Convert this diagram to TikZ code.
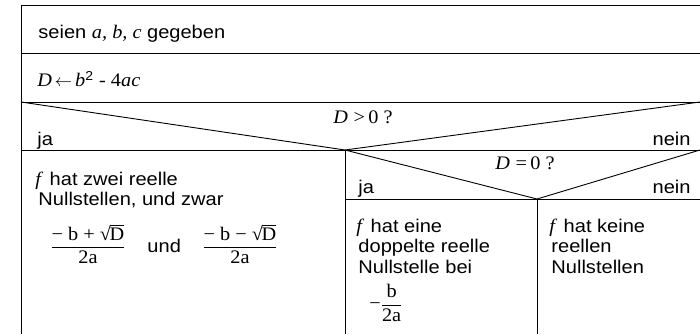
\documentclass[tikz,border=0pt]{standalone}
\usepackage{amsmath}
\usepackage{fontspec}
\setmainfont{Liberation Sans}[FakeStretch=1.09]
\newfontfamily\serif{Liberation Serif}[FakeStretch=1.06,Scale=1.04]
\newcommand{\rootD}{\text{\serif √}\mkern-1.5mu\overline{\text{\serif D}}}
\begin{document}
\begin{tikzpicture}[x=1pt,y=-1pt,line width=0.9pt,
  lbl/.style={inner sep=0pt,anchor=base west,font=\fontsize{18.4}{20}\selectfont},
  txtline/.style={lbl,text height=13pt,text depth=3pt},
  rlbl/.style={txtline,anchor=base east},
  clbl/.style={txtline,anchor=base}]
\useasboundingbox (0,0) rectangle (700,334);
% frame coordinates
\coordinate (tl) at (21,5);   \coordinate (tr) at (700,5);
\coordinate (bl) at (21,334);
\coordinate (r1l) at (21,53); \coordinate (r1r) at (700,53);
\coordinate (r2l) at (21,102); \coordinate (r2r) at (700,102);
\coordinate (r3l) at (21,150); \coordinate (r3r) at (700,150);
\coordinate (apex1) at (345,150);
\coordinate (v1b) at (345,334);
\coordinate (r4l) at (345,199); \coordinate (r4r) at (700,199);
\coordinate (apex2) at (537,199);
\coordinate (v2b) at (537,334);
% lines
\draw (tl) -- (tr);
\draw (tl) -- (bl);
\draw (r1l) -- (r1r);
\draw (r2l) -- (r2r);
\draw (r3l) -- (r3r);
\draw (r2l) -- (apex1) -- (r2r);
\draw (apex1) -- (v1b);
\draw (r4l) -- (r4r);
\draw (apex1) -- (apex2) -- (r3r);
\draw (apex2) -- (v2b);
% texts
\node[txtline] (t1) at (38,39) {seien {\serif\itshape a, b, c} gegeben};
\node[txtline] (t2) at (37,87) {{\serif\itshape D}$\,\leftarrow\,${\serif\itshape b}\textsuperscript{2} {\serif - 4\itshape ac}};
\node[clbl] (q1) at (363,123) {{\serif\itshape D} {\serif >\,0 ?}};
\node[txtline] (ja1) at (37,145) {ja};
\node[rlbl] (nein1) at (691,145) {nein};
\node[clbl] (q2) at (525,169) {{\serif\itshape D} {\serif =\,0 ?}};
\node[txtline] (ja2) at (358,193) {ja};
\node[rlbl] (nein2) at (691,193) {nein};
% box: two roots
\node[txtline] (a1) at (35,185) {{\serif\itshape f} \,hat zwei reelle};
\node[txtline] (a2) at (38,205) {Nullstellen, und zwar};
\node[lbl] (fr1) at (50,252) {$\dfrac{\text{\serif − b + }\rootD}{\text{\serif 2a}}$};
\node[txtline] (und) at (147,252) {und};
\node[lbl] (fr2) at (202,252) {$\dfrac{\text{\serif − b − }\rootD}{\text{\serif 2a}}$};
% box: double root
\node[txtline] (b1) at (356,232) {{\serif\itshape f} \,hat eine};
\node[txtline] (b2) at (358,252) {doppelte reelle};
\node[txtline] (b3) at (358,273) {Nullstelle bei};
\node[lbl] (fr3) at (369,309.5) {$\text{\serif −}\dfrac{\text{\serif b}}{\text{\serif 2a}}$};
% box: no roots
\node[txtline] (c1) at (549,232) {{\serif\itshape f} \,hat keine};
\node[txtline] (c2) at (551,252) {reellen};
\node[txtline] (c3) at (551,273) {Nullstellen};
\end{tikzpicture}
\end{document}
